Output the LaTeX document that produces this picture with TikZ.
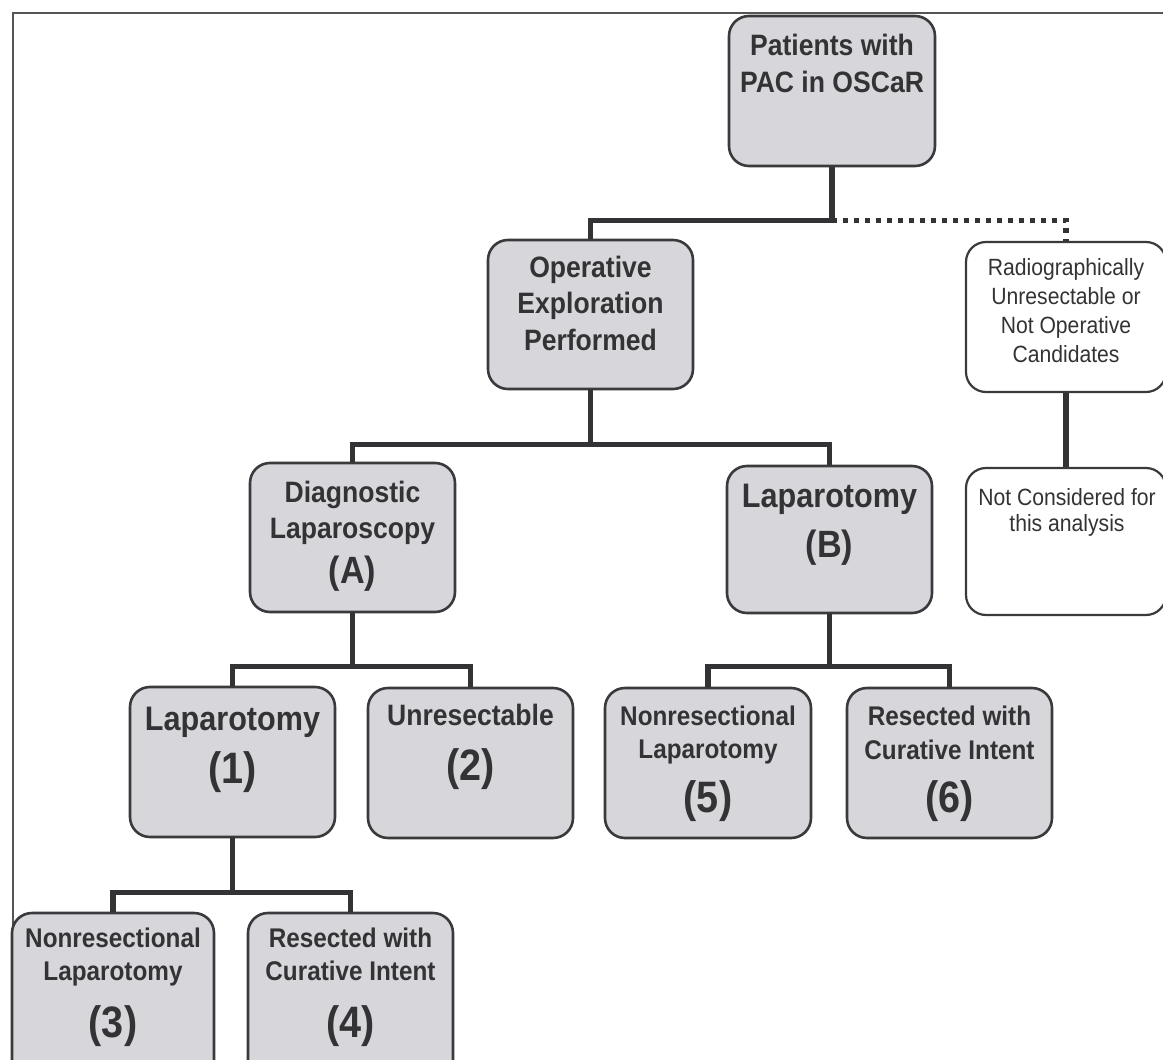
\documentclass[tikz,border=0pt]{standalone}
\usepackage{fontspec}
\setmainfont[FakeStretch=0.9]{Liberation Sans}
\definecolor{boxfill}{HTML}{D7D6DA}
\definecolor{ink}{HTML}{333335}
\definecolor{edge}{HTML}{3A3A3C}
\definecolor{frame}{HTML}{555555}
\begin{document}
\begin{tikzpicture}[x=1pt,y=-1pt,
  gbox/.style={draw=edge, line width=2.6pt, fill=boxfill, rounded corners=20pt, inner sep=0pt},
  wbox/.style={gbox, fill=white, line width=2.2pt},
  conn/.style={draw=ink, line width=5.5pt},
  dotconn/.style={conn, dash pattern=on 5pt off 6pt},
  tu/.style={text=ink, font=\bfseries\fontsize{29.5}{34}\selectfont, inner sep=0pt, anchor=base},
  tl/.style={tu, font=\bfseries\fontsize{27}{31}\selectfont},
  tbig/.style={tu, font=\bfseries\fontsize{34}{38}\selectfont},
  tnA/.style={tu, font=\bfseries\fontsize{38}{42}\selectfont},
  tn/.style={tu, font=\bfseries\fontsize{44}{48}\selectfont},
  tr/.style={tu, font=\fontsize{23.5}{28}\selectfont},
]
\useasboundingbox (0,0) rectangle (1163,1060);
\clip (0,0) rectangle (1163,1060);
\fill[white] (0,0) rectangle (1163,1060);
\draw[frame, line width=2pt] (13,13) rectangle (1200,1100);

% boxes
\node[gbox, minimum width=206pt, minimum height=150pt] (P) at (832,91) {};
\node[gbox, minimum width=205pt, minimum height=149pt] (O) at (590.5,314.5) {};
\node[wbox, minimum width=200pt, minimum height=150pt] (R) at (1066,317) {};
\node[wbox, minimum width=200pt, minimum height=147pt] (N) at (1066,541.5) {};
\node[gbox, minimum width=205pt, minimum height=149pt] (A) at (352.5,537.5) {};
\node[gbox, minimum width=205pt, minimum height=147pt] (B) at (829.5,539.5) {};
\node[gbox, minimum width=205pt, minimum height=150pt] (B1) at (232.5,762) {};
\node[gbox, minimum width=205pt, minimum height=150pt] (B2) at (470.5,763) {};
\node[gbox, minimum width=206pt, minimum height=150pt] (B5) at (708,763) {};
\node[gbox, minimum width=205pt, minimum height=150pt] (B6) at (949.5,763) {};
\node[gbox, minimum width=202pt, minimum height=170pt] (B3) at (113,998) {};
\node[gbox, minimum width=205pt, minimum height=170pt] (B4) at (350.5,998) {};

% connectors
\draw[conn] (P.south) -- ++(0,53) coordinate (jP) -| (O.north);
\draw[dotconn] (jP) -| (R.north);
\draw[conn] (R.south) -- (N.north);
\draw[conn] (O.south) -- ++(0,54) coordinate (jO);
\draw[conn] (A.north) |- (jO) -| (B.north);
\draw[conn] (A.south) -- ++(0,53) coordinate (jA);
\draw[conn] (B1.north) |- (jA) -| (B2.north);
\draw[conn] (B.south) -- ++(0,52) coordinate (jB);
\draw[conn] (B5.north) |- (jB) -| (B6.north);
\draw[conn] (B1.south) -- ++(0,54) coordinate (j1);
\draw[conn] (B3.north) |- (j1) -| (B4.north);

% texts
\node[tu] (Pt1) at (832,55) {Patients with};
\node[tu] (Pt2) at (832,92) {PAC in OSCaR};
\node[tu] (Ot1) at (590.5,277) {Operative};
\node[tu] (Ot2) at (590.5,313) {Exploration};
\node[tu] (Ot3) at (590.5,350) {Performed};
\node[tr] (Rt1) at (1066,275) {Radiographically};
\node[tr] (Rt2) at (1066,304) {Unresectable or};
\node[tr] (Rt3) at (1066,333) {Not Operative};
\node[tr] (Rt4) at (1066,362) {Candidates};
\node[tr] (Nt1) at (1067,505) {Not Considered for};
\node[tr] (Nt2) at (1067,531) {this analysis};
\node[tu] (At1) at (352.5,502) {Diagnostic};
\node[tu] (At2) at (352.5,538) {Laparoscopy};
\node[tnA] (At3) at (352.5,583) {(A)};
\node[tbig] (Bt1) at (829.5,507) {Laparotomy};
\node[tnA] (Bt2) at (829.5,557) {(B)};
\node[tbig] (B1t1) at (232.5,730) {Laparotomy};
\node[tn] (B1t2) at (232.5,783) {(1)};
\node[tu] (B2t1) at (470.5,725) {Unresectable};
\node[tn] (B2t2) at (470.5,780) {(2)};
\node[tl] (B5t1) at (708,725) {Nonresectional};
\node[tl] (B5t2) at (708,758) {Laparotomy};
\node[tn] (B5t3) at (708,812) {(5)};
\node[tl] (B6t1) at (949.5,725) {Resected with};
\node[tl] (B6t2) at (949.5,759) {Curative Intent};
\node[tn] (B6t3) at (949.5,812) {(6)};
\node[tl] (B3t1) at (113,947) {Nonresectional};
\node[tl] (B3t2) at (113,980) {Laparotomy};
\node[tn] (B3t3) at (113,1037) {(3)};
\node[tl] (B4t1) at (350.5,947) {Resected with};
\node[tl] (B4t2) at (350.5,980) {Curative Intent};
\node[tn] (B4t3) at (350.5,1037) {(4)};
\end{tikzpicture}
\end{document}
